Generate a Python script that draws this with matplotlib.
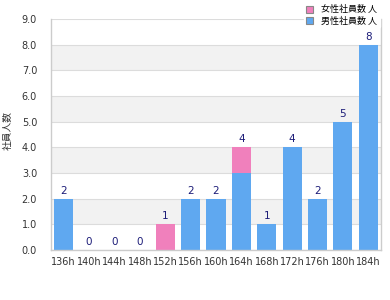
import matplotlib
matplotlib.use("Agg")
import matplotlib.pyplot as plt
import numpy as np

plt.rcParams['font.family'] = ['DejaVu Sans', 'Noto Sans CJK JP']

categories = ["136h", "140h", "144h", "148h", "152h", "156h", "160h", "164h",
              "168h", "172h", "176h", "180h", "184h"]
blue_vals = [2, 0, 0, 0, 0, 2, 2, 3, 1, 4, 2, 5, 8]
pink_vals = [0, 0, 0, 0, 1, 0, 0, 1, 0, 0, 0, 0, 0]
legend_labels = ["女性社員数 人", "男性社員数 人"]
y_label = "社員人数"
y_ticks = [0, 1, 2, 3, 4, 5, 6, 7, 8, 9]

BLUE = "#5fa8f0"
PINK = "#f080bc"
NAVY = "#1c1c78"
CJK = ['Noto Sans CJK JP', 'DejaVu Sans']

fig = plt.figure(figsize=(3.9, 3.0), dpi=100)
ax = fig.add_axes([51/390, 1 - 250/300, (381-51)/390, (250-19)/300])

x = np.arange(len(categories))
for i in range(0, 9):
    if i % 2 == 1:
        ax.axhspan(i, i + 1, color="#f2f2f2", zorder=0, lw=0)
for t in y_ticks:
    ax.axhline(t, color="#dcdcdc", lw=0.8, zorder=1)

ax.bar(x, blue_vals, width=0.75, color=BLUE, zorder=2, label=legend_labels[1])
ax.bar(x, pink_vals, width=0.75, bottom=blue_vals, color=PINK, zorder=2, label=legend_labels[0])

totals = [b + p for b, p in zip(blue_vals, pink_vals)]
for xi, t in zip(x, totals):
    ax.text(xi, t + 0.12, str(t), ha="center", va="bottom", fontsize=7.5, color=NAVY, zorder=3)

ax.set_xlim(-0.5, len(categories) - 0.5)
ax.set_ylim(0, 9)
ax.set_xticks(x)
ax.set_xticklabels(categories)
ax.set_yticks(y_ticks)
ax.set_yticklabels([f"{t:.1f}" for t in y_ticks])
ax.tick_params(axis="both", length=0, labelsize=7, colors="#333333")
ax.tick_params(axis="x", pad=5)
ax.tick_params(axis="y", pad=10)
for s in ["left", "bottom", "right"]:
    ax.spines[s].set_color("#cccccc")
    ax.spines[s].set_linewidth(1.0)
ax.spines["top"].set_visible(False)

fig.text(8/390, 1 - 130/300, y_label, rotation=90, ha="center", va="center",
         fontsize=7, color="#333333", family=CJK)

handles, labels = ax.get_legend_handles_labels()
leg = fig.legend(handles[::-1], labels[::-1], loc="upper right",
                 bbox_to_anchor=(0.985, 1.005), frameon=True,
                 prop={'family': CJK, 'size': 6.5},
                 handlelength=0.8, handleheight=0.8, handletextpad=0.9,
                 labelspacing=0.25, borderpad=0.25, framealpha=1, edgecolor="white")
for h in leg.legend_handles:
    h.set_edgecolor("#888888")
    h.set_linewidth(0.8)

fig.savefig("out.png", dpi=100)
